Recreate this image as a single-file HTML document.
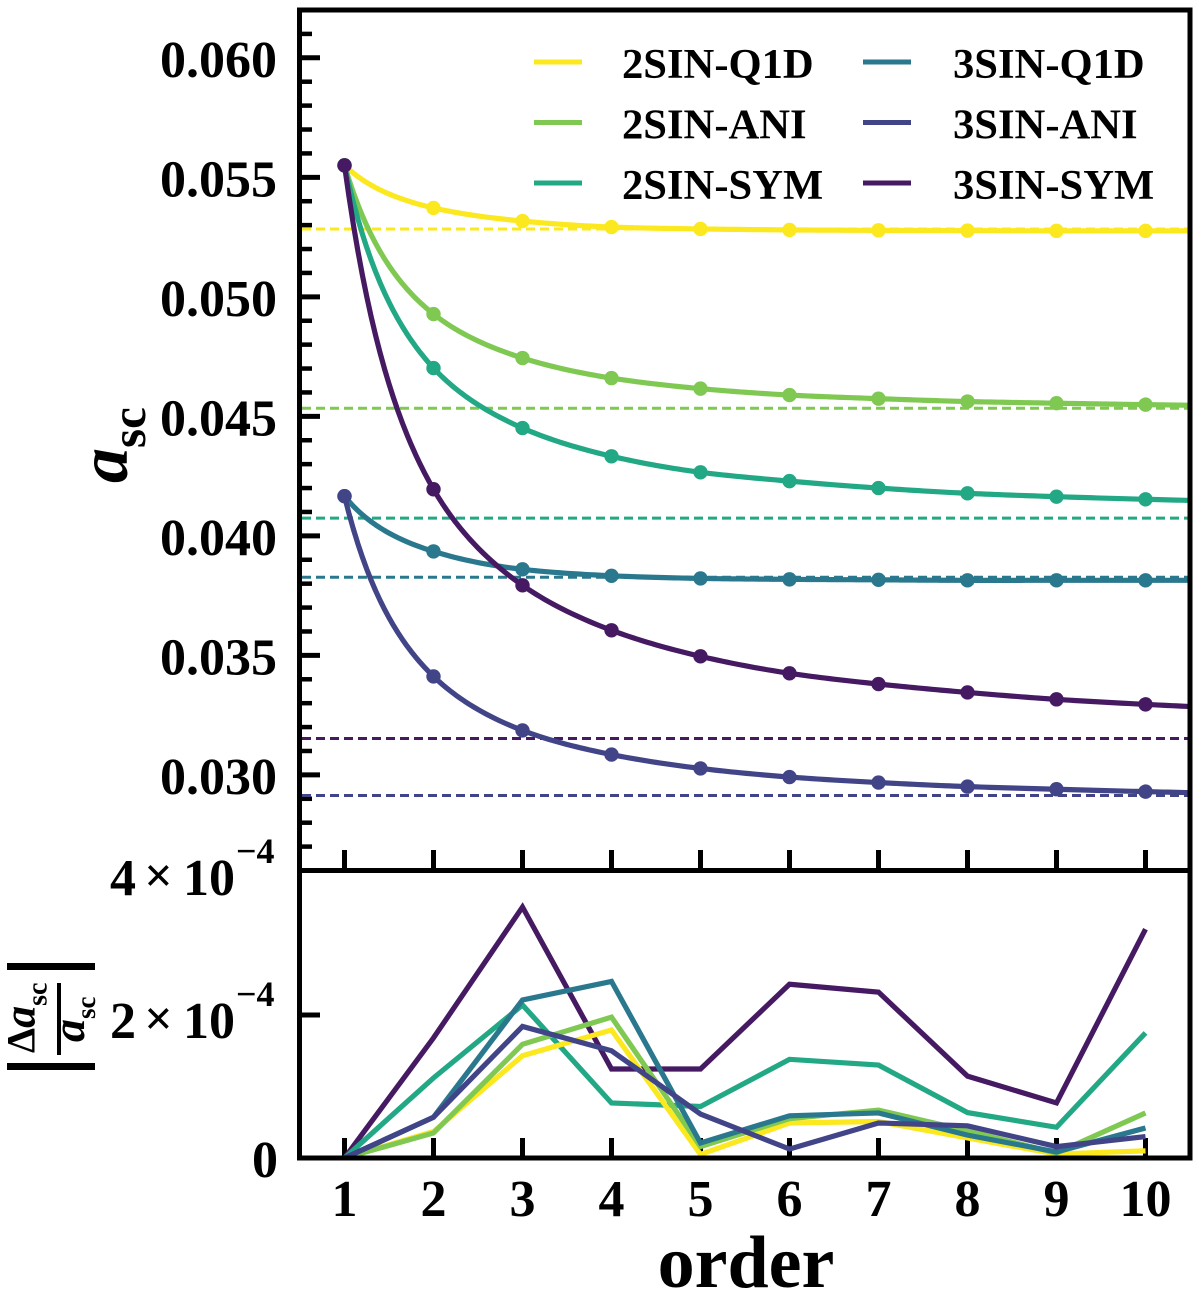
<!DOCTYPE html>
<html lang="en">
<head>
<meta charset="utf-8">
<title>Scattering length convergence by order</title>
<style>
html,body{margin:0;padding:0;background:#fff;}
svg{display:block;}
text{font-family:"Liberation Serif",serif;font-weight:bold;fill:#000;}
</style>
</head>
<body>
<svg id="chart" xmlns="http://www.w3.org/2000/svg" width="1200" height="1295" viewBox="0 0 1200 1295">
  <rect x="0" y="0" width="1200" height="1295" fill="#fff"/>
  <defs>
    <clipPath id="upper-clip"><rect x="300" y="10" width="890" height="860.5"/></clipPath>
    <clipPath id="lower-clip"><rect x="300" y="870.5" width="890" height="287.5"/></clipPath>
  </defs>
  <g id="ticks"></g>
  <g id="upper-series" clip-path="url(#upper-clip)"></g>
  <g id="lower-series" clip-path="url(#lower-clip)"></g>
  <g id="spines"></g>
  <g id="labels"></g>
  <g id="legend"></g>

  <text x="746" y="1287" text-anchor="middle" font-size="74">order</text>
  <text transform="translate(127,483) rotate(-90)" font-size="70"><tspan font-style="italic">a</tspan><tspan font-size="49" dy="18">sc</tspan></text>

  <g>
    <rect x="7" y="1063" width="88" height="7" fill="#000"/>
    <rect x="7" y="963" width="88" height="7" fill="#000"/>
    <rect x="57" y="983" width="4" height="72" fill="#000"/>
    <text transform="translate(34.5,1053) rotate(-90)" font-size="40">Δ<tspan font-style="italic" font-size="44">a</tspan><tspan font-size="28" dy="12">sc</tspan></text>
    <text transform="translate(84,1042) rotate(-90)" font-size="46"><tspan font-style="italic">a</tspan><tspan font-size="27" dy="11">sc</tspan></text>
  </g>
</svg>
<script>
// ---- chart data ----
const orders = [1, 2, 3, 4, 5, 6, 7, 8, 9, 10];
const seriesNames = ['2SIN-Q1D', '2SIN-ANI', '2SIN-SYM', '3SIN-Q1D', '3SIN-ANI', '3SIN-SYM'];
const seriesColors = ['#fbe81f', '#7fc953', '#22a884', '#2a788e', '#414487', '#451a62'];

// upper panel: a_sc by order
const asc2SinQ1d = [0.0555, 0.05372, 0.05317, 0.05292, 0.05284, 0.0528, 0.05278, 0.05277, 0.05276, 0.05276];
const asc2SinAni = [0.0555, 0.04928, 0.04744, 0.0466, 0.04616, 0.04589, 0.04574, 0.04562, 0.04555, 0.04549];
const asc2SinSym = [0.0555, 0.04702, 0.04451, 0.04333, 0.04266, 0.04229, 0.042, 0.04178, 0.04164, 0.04153];
const asc3SinQ1d = [0.04166, 0.03935, 0.0386, 0.03833, 0.03822, 0.03818, 0.03816, 0.03814, 0.03814, 0.03814];
const asc3SinAni = [0.04166, 0.03412, 0.03186, 0.03085, 0.03027, 0.02991, 0.02968, 0.02951, 0.0294, 0.0293];
const asc3SinSym = [0.0555, 0.04195, 0.03793, 0.03605, 0.03496, 0.03425, 0.0338, 0.03345, 0.03316, 0.03295];

// upper panel: dashed reference levels
const referenceLevels = [0.05284, 0.04534, 0.04074, 0.03827, 0.02914, 0.03152];

// lower panel: relative difference, in units of 1e-4
const rel2SinQ1d = [0, 0.37, 1.43, 1.79, 0.05, 0.49, 0.51, 0.28, 0.055, 0.10];
const rel2SinAni = [0, 0.35, 1.59, 1.97, 0.16, 0.55, 0.67, 0.38, 0.07, 0.63];
const rel2SinSym = [0, 1.12, 2.14, 0.77, 0.72, 1.38, 1.30, 0.635, 0.43, 1.75];
const rel3SinQ1d = [0, 0.57, 2.21, 2.47, 0.21, 0.59, 0.63, 0.32, 0.085, 0.42];
const rel3SinAni = [0, 0.57, 1.84, 1.50, 0.615, 0.125, 0.49, 0.45, 0.16, 0.30];
const rel3SinSym = [0, 1.68, 3.51, 1.245, 1.245, 2.43, 2.32, 1.145, 0.77, 3.2];

// tick labels and values
const upperMajorTicks = [0.030, 0.035, 0.040, 0.045, 0.050, 0.055, 0.060];
const upperMajorLabels = ['0.030', '0.035', '0.040', '0.045', '0.050', '0.055', '0.060'];
const upperMinorTicks = [0.027, 0.028, 0.029, 0.031, 0.032, 0.033, 0.034, 0.036, 0.037, 0.038, 0.039, 0.041, 0.042, 0.043, 0.044, 0.046, 0.047, 0.048, 0.049, 0.051, 0.052, 0.053, 0.054, 0.056, 0.057, 0.058, 0.059, 0.061];

const NS = 'http://www.w3.org/2000/svg';
function make(tag, parent, attrs) {
  const el = document.createElementNS(NS, tag);
  for (const k in attrs) el.setAttribute(k, attrs[k]);
  parent.appendChild(el);
  return el;
}

// ---- axis functions ----
const xOf = n => 300 + (n - 0.5) * 89;
const yUpper = v => 10 + (0.062 - v) / 0.036 * 860.5;
const yLower = v => 1158 - v / 4 * 286;

// smooth curve through points: Hermite interpolation in u = 1/n
function smoothValue(n, values) {
  const us = orders.map(o => 1 / o);
  const u = 1 / n;
  const last = us.length - 1;
  const sec = [];
  for (let i = 0; i < last; i++) sec.push((values[i + 1] - values[i]) / (us[i + 1] - us[i]));
  const tan = us.map((_, i) => i === 0 ? sec[0] : i === last ? sec[last - 1] : (sec[i - 1] + sec[i]) / 2);
  if (u <= us[last]) return values[last] + tan[last] * (u - us[last]);
  let i = 0;
  while (i < last - 1 && u < us[i + 1]) i++;
  const h = us[i + 1] - us[i];
  const t = (u - us[i]) / h;
  const t2 = t * t, t3 = t2 * t;
  return (2 * t3 - 3 * t2 + 1) * values[i] + (t3 - 2 * t2 + t) * h * tan[i] +
         (-2 * t3 + 3 * t2) * values[i + 1] + (t3 - t2) * h * tan[i + 1];
}

const slugs = seriesNames.map(s => s.toLowerCase());
const ticksG = document.getElementById('ticks');
const upperG = document.getElementById('upper-series');
const lowerG = document.getElementById('lower-series');
const spinesG = document.getElementById('spines');
const labelsG = document.getElementById('labels');
const legendG = document.getElementById('legend');

// ---- ticks ----
upperMajorTicks.forEach(v => {
  const t = make('line', ticksG, {x1: 300, x2: 320, y1: yUpper(v), y2: yUpper(v), stroke: '#000', 'stroke-width': 5});
  
  
});
upperMinorTicks.forEach(v => {
  const t = make('line', ticksG, {x1: 300, x2: 312, y1: yUpper(v), y2: yUpper(v), stroke: '#000', 'stroke-width': 4.5});
  
  
});
const lowerTick = make('line', ticksG, {x1: 300, x2: 320, y1: yLower(2), y2: yLower(2), stroke: '#000', 'stroke-width': 5});


orders.forEach(n => {
  const a = make('line', ticksG, {x1: xOf(n), x2: xOf(n), y1: 850, y2: 870, stroke: '#000', 'stroke-width': 5});
  
  
  const b = make('line', ticksG, {x1: xOf(n), x2: xOf(n), y1: 1138, y2: 1158, stroke: '#000', 'stroke-width': 5});
  
  
});

// ---- upper panel ----
const upperSeries = [asc2SinQ1d, asc2SinAni, asc2SinSym, asc3SinQ1d, asc3SinAni, asc3SinSym];
referenceLevels.forEach((v, i) => {
  const d = make('line', upperG, {x1: 302, x2: 1190, y1: yUpper(v), y2: yUpper(v), stroke: seriesColors[i], 'stroke-width': 3, 'stroke-dasharray': '9 5'});
  
  
});
upperSeries.forEach((vals, i) => {
  const pts = [];
  for (let n = 1; n <= 10.5001; n += 0.05) {
    pts.push(xOf(n).toFixed(2) + ',' + yUpper(smoothValue(n, vals)).toFixed(2));
  }
  const p = make('polyline', upperG, {points: pts.join(' '), fill: 'none', stroke: seriesColors[i], 'stroke-width': 5.2, 'stroke-linejoin': 'round'});
  
  
  vals.forEach((v, k) => {
    const c = make('circle', upperG, {cx: xOf(orders[k]), cy: yUpper(v), r: 7.2, fill: seriesColors[i]});
    
    
  });
});

// ---- lower panel ----
const lowerSeries = [rel3SinSym, rel2SinSym, rel2SinQ1d, rel2SinAni, rel3SinQ1d, rel3SinAni];
const lowerColorIndex = [5, 2, 0, 1, 3, 4];
lowerSeries.forEach((vals, i) => {
  const idx = lowerColorIndex[i];
  const pts = vals.map((v, k) => xOf(orders[k]) + ',' + yLower(v));
  const p = make('polyline', lowerG, {points: pts.join(' '), fill: 'none', stroke: seriesColors[idx], 'stroke-width': 5.2, 'stroke-linejoin': 'miter'});
  
  
});

// ---- spines ----
const spineTop = make('rect', spinesG, {x: 297, y: 7.5, width: 895.5, height: 5, fill: '#000'});


const spineLeft = make('rect', spinesG, {x: 297, y: 7.5, width: 5, height: 1153, fill: '#000'});


const spineRight = make('rect', spinesG, {x: 1187.5, y: 7.5, width: 5, height: 1153, fill: '#000'});


const spineMid = make('rect', spinesG, {x: 297, y: 868, width: 895.5, height: 5, fill: '#000'});


const spineBottom = make('rect', spinesG, {x: 297, y: 1155.5, width: 895.5, height: 5, fill: '#000'});



// ---- tick labels ----
function label(parent, x, y, size, anchor, str) {
  const t = make('text', parent, {x: x, y: y, 'font-size': size, 'text-anchor': anchor});
  t.textContent = str;
  return t;
}
upperMajorTicks.forEach((v, i) => {
  const t = label(labelsG, 277, yUpper(v) + 19, 52, 'end', upperMajorLabels[i]);
  
  
});
orders.forEach(n => {
  const t = label(labelsG, xOf(n), 1216, 52, 'middle', String(n));
  
  
});
const zeroLabel = label(labelsG, 278, 1177, 52, 'end', '0');



const sciCoefficients = ['4', '2'];
const sciBaselines = [895, 1038];
sciCoefficients.forEach((c, i) => {
  const y = sciBaselines[i];
  const coef = label(labelsG, 110, y, 52, 'start', c);
  
  
  const times = label(labelsG, 158.5, y - 3, 50, 'middle', '×');
  
  
  const ten = label(labelsG, 183, y, 52, 'start', '10');
  
  
  const exp = label(labelsG, 236, y - 32, 36, 'start', '−4');
  
  
});

// ---- legend ----
const legendColumns = [0, 0, 0, 1, 1, 1];
const legendRows = [0, 1, 2, 0, 1, 2];
seriesNames.forEach((name, i) => {
  const handleX = legendColumns[i] === 0 ? 534 : 863;
  const textX = legendColumns[i] === 0 ? 622 : 953;
  const rowY = 62 + legendRows[i] * 60.5;
  const h = make('line', legendG, {x1: handleX, x2: handleX + 48, y1: rowY, y2: rowY, stroke: seriesColors[i], 'stroke-width': 5});
  
  
  const t = label(legendG, textX, rowY + 16, 42.6, 'start', name);
  
  
});
</script>
</body>
</html>
